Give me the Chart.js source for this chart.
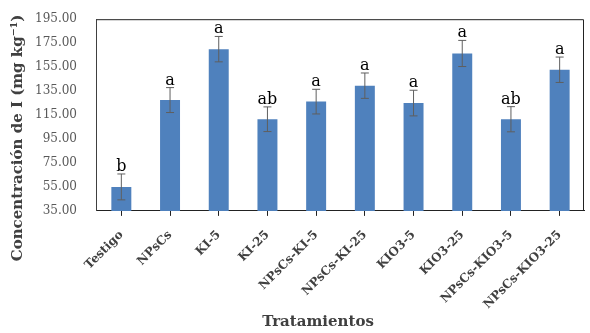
<!DOCTYPE html>
<html>
<head>
<meta charset="utf-8">
<script src="https://cdn.jsdelivr.net/npm/chart.js@4.4.0/dist/chart.umd.min.js"></script>
<style>
  html, body { margin: 0; padding: 0; background: #ffffff; }
  #wrap { width: 590px; height: 333px; }
</style>
</head>
<body>
<div id="wrap"><canvas id="iodoChart" width="590" height="333"></canvas></div>
<script>
// datos
const tratamientos = ['Testigo', 'NPsCs', 'KI-5', 'KI-25', 'NPsCs-KI-5', 'NPsCs-KI-25', 'KIO3-5', 'KIO3-25', 'NPsCs-KIO3-5', 'NPsCs-KIO3-25'];
const medias = [55.0, 127.5, 170.0, 111.5, 126.2, 139.5, 125.0, 166.4, 111.5, 152.8];
const errores = [10.8, 10.4, 10.6, 10.3, 10.3, 10.6, 10.7, 10.9, 10.5, 10.6];
const letras = ['b', 'a', 'a', 'ab', 'a', 'a', 'a', 'a', 'ab', 'a'];

const fuente = "'DejaVu Serif', serif";
const tituloX = 'Tratamientos';
const tituloY = 'Concentración de I (mg kg⁻¹)';

// barras de error + letras de significancia
const errorBars = {
  id: 'errorBars',
  afterDatasetsDraw(chart) {
    const ctx = chart.ctx;
    const y = chart.scales.y;
    const meta = chart.getDatasetMeta(0);
    ctx.save();
    meta.data.forEach((bar, i) => {
      const top = y.getPixelForValue(medias[i] + errores[i]);
      const bottom = y.getPixelForValue(medias[i] - errores[i]);
      ctx.strokeStyle = '#5f5f5f';
      ctx.lineWidth = 1;
      ctx.beginPath();
      ctx.moveTo(bar.x, top);
      ctx.lineTo(bar.x, bottom);
      ctx.moveTo(bar.x - 4, top);
      ctx.lineTo(bar.x + 4, top);
      ctx.moveTo(bar.x - 4, bottom);
      ctx.lineTo(bar.x + 4, bottom);
      ctx.stroke();

      ctx.fillStyle = '#000000';
      ctx.font = '16px ' + fuente;
      ctx.textAlign = 'center';
      ctx.textBaseline = 'alphabetic';
      ctx.fillText(letras[i], bar.x, top - 3);
    });
    ctx.restore();
  }
};

// marco superior/derecho y titulos de ejes (desplazados como en el original)
const marco = {
  id: 'marco',
  afterDraw(chart) {
    const a = chart.chartArea;
    const ctx = chart.ctx;
    ctx.save();
    ctx.strokeStyle = '#222222';
    ctx.lineWidth = 1;
    ctx.beginPath();
    ctx.moveTo(a.left, a.top + 0.5);
    ctx.lineTo(a.right - 0.5, a.top + 0.5);
    ctx.lineTo(a.right - 0.5, a.bottom);
    ctx.stroke();

    ctx.fillStyle = '#404040';
    ctx.textAlign = 'center';
    ctx.textBaseline = 'middle';
    ctx.font = 'bold 15px ' + fuente;
    ctx.fillText(tituloX, 318, 322);

    ctx.translate(18, 138);
    ctx.rotate(-Math.PI / 2);
    ctx.fillText(tituloY, 0, 0);
    ctx.restore();
  }
};

const ctx = document.getElementById('iodoChart').getContext('2d');
new Chart(ctx, {
  type: 'bar',
  data: {
    labels: tratamientos,
    datasets: [{
      data: medias,
      backgroundColor: '#4f81bd',
      borderWidth: 0,
      barPercentage: 0.41,
      categoryPercentage: 1.0
    }]
  },
  options: {
    responsive: false,
    animation: false,
    layout: { padding: { top: 5, right: 6, left: 23, bottom: 9 } },
    plugins: {
      legend: { display: false },
      tooltip: { enabled: false }
    },
    scales: {
      x: {
        grid: {
          display: true,
          drawOnChartArea: false,
          offset: false,
          tickLength: 5,
          color: '#222222'
        },
        border: { color: '#222222', width: 1 },
        ticks: {
          minRotation: 45,
          maxRotation: 45,
          autoSkip: false,
          color: '#404040',
          font: { family: fuente, size: 12, weight: 'bold' },
          padding: 12
        }
      },
      y: {
        min: 35,
        max: 195,
        grid: { display: false },
        border: { color: '#404040', width: 1 },
        ticks: {
          stepSize: 20,
          color: '#595959',
          font: { family: fuente, size: 12 },
          padding: 12,
          callback: (v) => Number(v).toFixed(2)
        }
      }
    }
  },
  plugins: [errorBars, marco]
});
</script>
</body>
</html>
